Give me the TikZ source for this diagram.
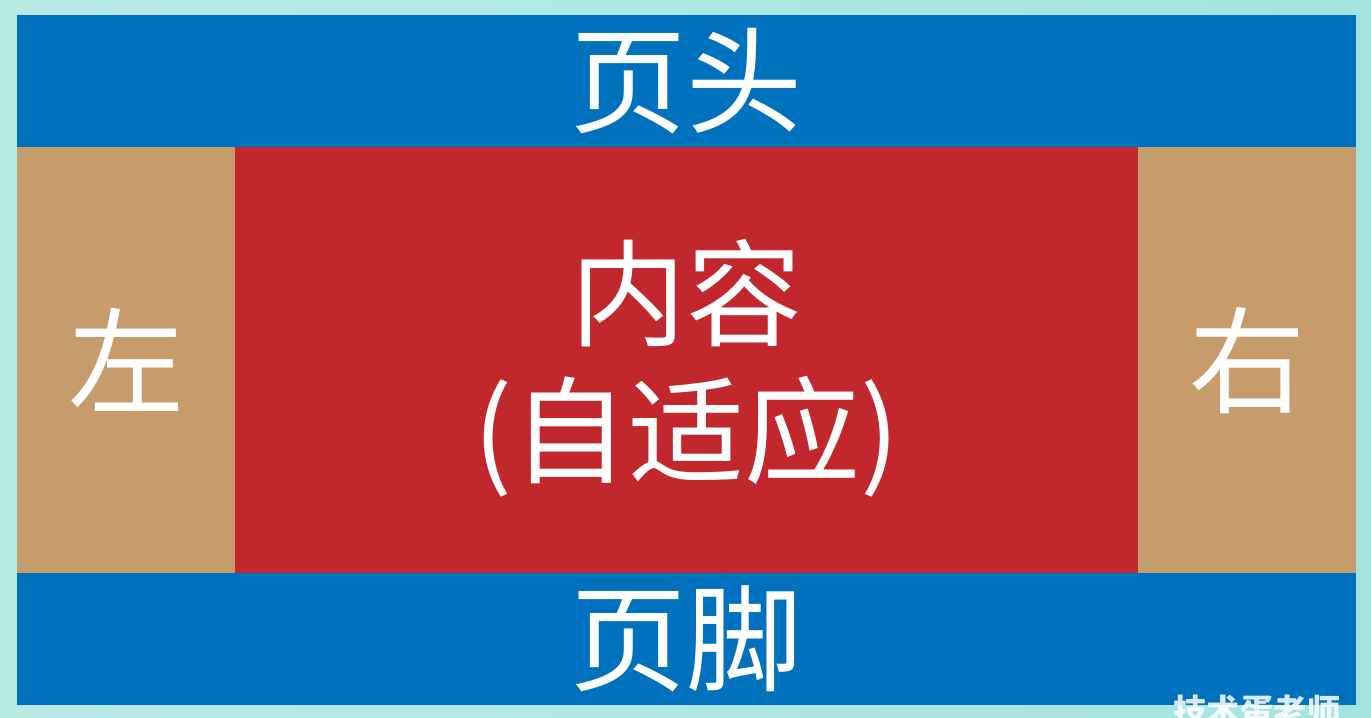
\documentclass[tikz,border=0pt]{standalone}
\usepackage{fontspec}
\setmainfont{Noto Sans CJK SC}
\definecolor{layPageLeft}{HTML}{B8EAE6}
\definecolor{layPageRight}{HTML}{A3E4DF}
\definecolor{layBarFill}{HTML}{0071BC}
\definecolor{laySideFill}{HTML}{C69C6D}
\definecolor{layMainFill}{HTML}{C1272D}
\definecolor{layText}{HTML}{FFFFFF}

\begin{document}
\begin{tikzpicture}[
  x=0.02cm, y=-0.02cm,
  block/.style={
    rectangle,
    inner sep=0pt,
    outer sep=0pt,
    text=layText,
    align=center,
    font=\fontsize{66}{78}\selectfont
  },
  bar/.style={
    block,
    fill=layBarFill,
    minimum width=26.78cm,
    minimum height=2.64cm
  },
  side/.style={
    block,
    fill=laySideFill,
    minimum width=4.36cm,
    minimum height=8.52cm
  },
  main/.style={
    block,
    fill=layMainFill,
    minimum width=18.06cm,
    minimum height=8.52cm
  },
  wmark/.style={
    text=white, opacity=0.85,
    font=\fontsize{19}{22}\selectfont\bfseries
  }
]

  \useasboundingbox (0,0) rectangle (1371,717);
  \shade[left color=layPageLeft, right color=layPageRight] (0,0) rectangle (1371,717);

  \node[bar] (head) at (686.5,81) {页头};
  \node[side] (left) at (126,360) {左};
  \node[main] (content) at (686.5,360) {};
  \node[block] (contentText) at (686.5,368) {内容\\(自适应)};
  \node[side] (right) at (1247,360) {右};
  \node[bar] (foot) at (686.5,639) {页脚};

  % watermark, cut by the page edge
  \begin{scope}
    \clip (0,0) rectangle (1371,717);
    \node[wmark] (wm) at (1257,711) {技术蛋老师};
  \end{scope}

\end{tikzpicture}
\end{document}
